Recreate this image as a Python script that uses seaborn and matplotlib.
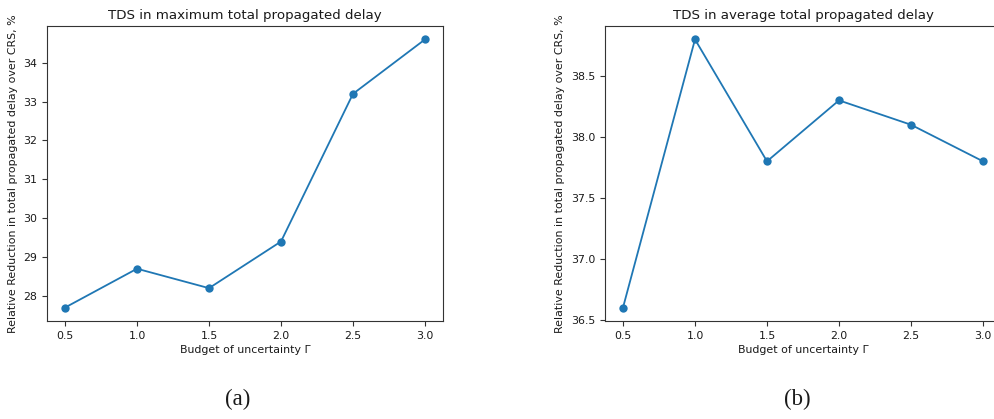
import matplotlib
matplotlib.use("Agg")
import matplotlib.pyplot as plt
import seaborn as sns
import pandas as pd

gamma = [0.5, 1.0, 1.5, 2.0, 2.5, 3.0]
max_delay_reduction = [27.7, 28.7, 28.2, 29.4, 33.2, 34.6]
avg_delay_reduction = [36.6, 38.8, 37.8, 38.3, 38.1, 37.8]
titles = ["TDS in maximum total propagated delay", "TDS in average total propagated delay"]
panel_labels = ["(a)", "(b)"]
xlabel = "Budget of uncertainty Γ"
ylabel = "Relative Reduction in total propagated delay over CRS, %"

sns.set_style("ticks")
plt.rcParams['font.family'] = ['DejaVu Sans']
plt.rcParams['text.color'] = '#1a1a1a'
plt.rcParams['axes.labelcolor'] = '#1a1a1a'
plt.rcParams['xtick.color'] = '#1a1a1a'
plt.rcParams['ytick.color'] = '#1a1a1a'

W, H = 995, 419
fig = plt.figure(figsize=(W / 100, H / 100), dpi=100)
ax1 = fig.add_axes([47 / W, (H - 321) / H, 396 / W, 295 / H])
ax2 = fig.add_axes([605 / W, (H - 321) / H, 396 / W, 295 / H])

label_x = [238, 797]
for ax, vals, title, lab, lx in zip([ax1, ax2], [max_delay_reduction, avg_delay_reduction],
                                    titles, panel_labels, label_x):
    df = pd.DataFrame({"gamma": gamma, "val": vals})
    sns.lineplot(data=df, x="gamma", y="val", ax=ax, marker="o", color="#1f77b4",
                 linewidth=1.3, markersize=6, markeredgewidth=0)
    ax.set_title(title, fontsize=9.6, pad=5)
    ax.set_xlabel(xlabel, fontsize=7.9, labelpad=3)
    ax.set_ylabel(ylabel, fontsize=7.9, labelpad=4)
    ax.set_xticks(gamma)
    ax.tick_params(labelsize=7.9, length=3.5, width=0.8, color="#333333")
    for s in ax.spines.values():
        s.set_visible(True)
        s.set_linewidth(0.8)
        s.set_color("#333333")
    fig.text(lx / W, 1 - 399 / H, lab, ha="center", va="center",
             fontsize=16.5, family=["Liberation Serif", "DejaVu Serif"])

ax2.spines["right"].set_visible(False)
ax1.set_yticks([28, 29, 30, 31, 32, 33, 34])
ax2.set_yticks([36.5, 37.0, 37.5, 38.0, 38.5])
ax2.set_yticklabels(["36.5", "37.0", "37.5", "38.0", "38.5"])

fig.savefig("out.png", dpi=100)
